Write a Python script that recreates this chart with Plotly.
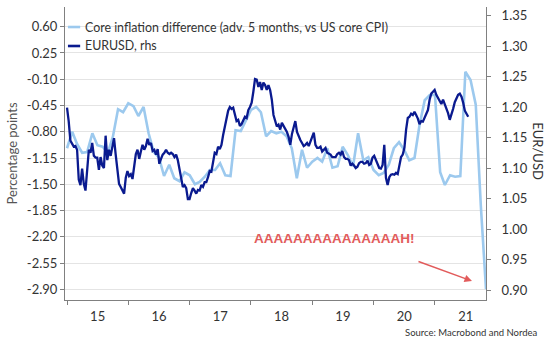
import pandas as pd
import plotly.graph_objects as go

# Core inflation difference vs US core CPI (advanced 5 months), monthly, percentage points
core_start = "2015-01-01"
core_diff = [
    -1.02, -0.80, -0.96, -1.08, -1.07, -0.82, -0.98, -1.00, -1.08, -0.87, -0.50, -0.54,
    -0.42, -0.46, -0.59, -0.47, -0.82, -1.07, -1.14, -1.39, -1.24, -1.42, -1.46, -1.34,
    -1.38, -1.50, -1.47, -1.40, -1.31, -1.31, -1.22, -1.38, -1.39, -0.78, -0.79, -0.66,
    -0.51, -0.47, -0.54, -0.86, -0.79, -0.82, -0.80, -0.86, -1.02, -1.42, -1.04, -1.28,
    -1.20, -1.15, -1.20, -1.02, -1.28, -1.26, -1.00, -1.11, -1.26, -0.82, -1.18, -1.14,
    -1.31, -1.38, -1.35, -1.24, -1.02, -0.94, -1.04, -1.18, -1.15, -0.71, -0.38, -0.31,
    -0.31, -1.34, -1.51, -1.38, -1.40, -1.39, 0.00, -0.11, -0.44, -1.78, -2.90,
]

# EURUSD spot, sampled every ten days
fx_start = "2015-01-01"
eurusd = [
    1.199, 1.177, 1.145, 1.141, 1.135, 1.136, 1.130, 1.081, 1.072, 1.099, 1.074, 1.063,
    1.102, 1.130, 1.125, 1.141, 1.120, 1.117, 1.117, 1.097, 1.118, 1.104, 1.100, 1.153,
    1.113, 1.130, 1.120, 1.133, 1.149, 1.122, 1.094, 1.074, 1.069, 1.064, 1.058, 1.084,
    1.095, 1.087, 1.090, 1.082, 1.100, 1.123, 1.130, 1.115, 1.127, 1.138, 1.130, 1.136,
    1.148, 1.138, 1.141, 1.128, 1.130, 1.122, 1.131, 1.107, 1.115, 1.122, 1.125, 1.130,
    1.125, 1.123, 1.125, 1.123, 1.118, 1.122, 1.113, 1.099, 1.082, 1.069, 1.072, 1.067,
    1.049, 1.049, 1.059, 1.067, 1.063, 1.058, 1.064, 1.063, 1.072, 1.069, 1.077, 1.077,
    1.085, 1.095, 1.094, 1.108, 1.125, 1.123, 1.135, 1.131, 1.138, 1.154, 1.166, 1.179,
    1.194, 1.200, 1.197, 1.199, 1.190, 1.177, 1.179, 1.169, 1.172, 1.179, 1.184, 1.182,
    1.195, 1.200, 1.207, 1.225, 1.246, 1.245, 1.233, 1.241, 1.228, 1.240, 1.236, 1.228,
    1.236, 1.228, 1.212, 1.187, 1.177, 1.168, 1.171, 1.163, 1.174, 1.169, 1.166, 1.159,
    1.151, 1.138, 1.156, 1.169, 1.177, 1.159, 1.151, 1.146, 1.141, 1.136, 1.138, 1.141,
    1.136, 1.143, 1.153, 1.158, 1.138, 1.133, 1.133, 1.135, 1.127, 1.130, 1.133, 1.125,
    1.123, 1.122, 1.118, 1.118, 1.118, 1.123, 1.125, 1.122, 1.128, 1.118, 1.115, 1.115,
    1.113, 1.104, 1.107, 1.104, 1.100, 1.102, 1.108, 1.110, 1.110, 1.107, 1.108, 1.112,
    1.105, 1.107, 1.117, 1.120, 1.113, 1.104, 1.100, 1.099, 1.105, 1.138, 1.084, 1.072,
    1.085, 1.089, 1.090, 1.089, 1.092, 1.090, 1.105, 1.118, 1.122, 1.133, 1.163, 1.182,
    1.184, 1.189, 1.187, 1.192, 1.187, 1.181, 1.172, 1.177, 1.176, 1.182, 1.190, 1.195,
    1.212, 1.222, 1.225, 1.228, 1.220, 1.215, 1.210, 1.205, 1.212, 1.205, 1.197, 1.190,
    1.179, 1.187, 1.197, 1.208, 1.215, 1.220, 1.222, 1.217, 1.207, 1.194, 1.189, 1.184,
]

left_ticks = [0.60, 0.25, -0.10, -0.45, -0.80, -1.15, -1.50, -1.85, -2.20, -2.55, -2.90]
right_ticks = [0.90, 0.95, 1.00, 1.05, 1.10, 1.15, 1.20, 1.25, 1.30, 1.35]

core_dates = pd.date_range(core_start, periods=len(core_diff), freq="MS")
fx_dates = pd.date_range(fx_start, periods=len(eurusd), freq="10D")

LIGHT = "#9cc9ee"
DARK = "#0a1a8f"
RED = "#e25b5b"
AXIS = "#808080"
TXT = "#333333"
FONT = "Lato"

fig = go.Figure()
fig.add_trace(go.Scatter(
    x=core_dates, y=core_diff, mode="lines", yaxis="y",
    line=dict(color=LIGHT, width=2.6),
    name="Core inflation difference (adv. 5 months, vs US core CPI)",
))
fig.add_trace(go.Scatter(
    x=fx_dates, y=eurusd, mode="lines", yaxis="y2",
    line=dict(color=DARK, width=2.3),
    name="EURUSD, rhs",
))

fig.update_layout(
    width=550, height=349,
    margin=dict(l=65, r=64, t=7, b=49, autoexpand=False),
    paper_bgcolor="white", plot_bgcolor="white",
    showlegend=False,
    font=dict(family=FONT, size=13, color=TXT),
    xaxis=dict(
        type="date",
        range=["2014-12-20", "2021-11-01"],
        dtick="M12", tick0="2015-01-01",
        tickformat="%y", ticklabelmode="period",
        ticks="outside", ticklen=4, tickcolor=AXIS,
        showline=True, linecolor=AXIS, linewidth=1,
        showgrid=False, zeroline=False,
        tickfont=dict(size=13, color=TXT),
    ),
    yaxis=dict(
        range=[-3.043, 0.863],
        tickmode="array", tickvals=left_ticks,
        ticktext=[f"{v:.2f}" for v in left_ticks],
        ticks="outside", ticklen=4, tickcolor=AXIS,
        showline=True, linecolor=AXIS, linewidth=1,
        showgrid=True, gridcolor="#e4e4e4", gridwidth=1,
        zeroline=False,
        tickfont=dict(size=13, color=TXT),
        title=dict(text="Percentage points", font=dict(size=13, color="#555555"), standoff=6),
    ),
    yaxis2=dict(
        overlaying="y", side="right",
        range=[0.8836, 1.364],
        tickmode="array", tickvals=right_ticks,
        ticktext=[f"{v:.2f}" for v in right_ticks],
        ticks="outside", ticklen=4, tickcolor=AXIS,
        showline=True, linecolor=AXIS, linewidth=1,
        showgrid=False, zeroline=False,
        tickfont=dict(size=13, color=TXT),
        ticklabelstandoff=8,
    ),
)

# legend drawn as short line keys with labels
legend_rows = [
    (0.9317, LIGHT, "Core inflation difference (adv. 5 months, vs US core CPI)"),
    (0.8669, DARK, "EURUSD, rhs"),
]
for yv, col, label in legend_rows:
    fig.add_shape(type="line", xref="paper", yref="paper",
                  x0=0.007, x1=0.036, y0=yv, y1=yv,
                  line=dict(color=col, width=2.6))
    fig.add_annotation(xref="paper", yref="paper", x=0.043, y=yv,
                       xanchor="left", yanchor="middle", showarrow=False,
                       text=label, font=dict(size=12.4, color=TXT))

# right-axis title reading downwards
fig.add_annotation(xref="paper", yref="paper", x=1.123, y=0.5085,
                   xanchor="center", yanchor="middle",
                   text="EUR/USD", textangle=90, showarrow=False,
                   font=dict(size=13, color=TXT))

fig.add_annotation(xref="paper", yref="paper", x=0.639, y=0.2116,
                   xanchor="center", yanchor="middle",
                   text="<b>AAAAAAAAAAAAAAAH!</b>", showarrow=False,
                   font=dict(family="Liberation Sans", size=13.5, color=RED))
fig.add_annotation(xref="paper", yref="paper", x=0.9667, y=0.0648,
                   ax=-55, ay=-20, text="", showarrow=True,
                   arrowhead=2, arrowsize=1, arrowwidth=1.5, arrowcolor=RED)

fig.add_annotation(xref="paper", yref="paper", x=1.128, y=-0.1126,
                   xanchor="right", yanchor="middle", showarrow=False,
                   text="Source: Macrobond and Nordea",
                   font=dict(size=9.5, color=TXT))

fig.write_html("out.html")
